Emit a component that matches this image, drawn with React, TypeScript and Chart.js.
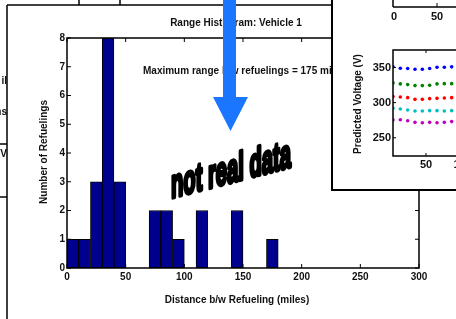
import React, { useEffect, useRef } from "react";
import { Chart, registerables } from "chart.js";

Chart.register(...registerables);

// ---------- Main histogram data ----------
const binCenters = [5, 15, 25, 35, 45, 55, 65, 75, 85, 95, 105, 115, 125, 135, 145, 155, 165, 175, 185, 195, 205, 215, 225, 235, 245, 255, 265, 275, 285, 295];
const refuelCounts = [1, 1, 3, 8, 3, 0, 0, 2, 2, 1, 0, 2, 0, 0, 2, 0, 0, 1, 0, 0, 0, 0, 0, 0, 0, 0, 0, 0, 0, 0];
const xTickValues = [0, 50, 100, 150, 200, 250, 300];
const yTickValues = [0, 1, 2, 3, 4, 5, 6, 7, 8];

const chartTitle = "Range Histogram: Vehicle 1";
const xTitle = "Distance b/w Refueling (miles)";
const yTitle = "Number of Refuelings";
const annotation = "Maximum range b/w refuelings = 175 miles";
const stampText = "not real data";
const sideFragments = ["il", "ns", "V"];

// ---------- Inset scatter data ----------
const cycleX = [5, 15, 25, 35, 45, 55, 65, 75, 85];
const voltBlue = [351, 349, 348.6, 347.6, 347.6, 348.6, 350.4, 350.4, 351];
const voltGreen = [328.1, 326.7, 325.7, 324.3, 324.3, 324.7, 326.7, 327.1, 327.1];
const voltRed = [308.6, 308.1, 307.1, 304.7, 304.7, 305.7, 306.1, 306.7, 307.1];
const voltCyan = [291.9, 291, 289.6, 288.1, 288.1, 288.6, 288.6, 288.1, 288.6];
const voltMagenta = [275.3, 275.7, 274.3, 271.9, 271.4, 271.9, 271.4, 271.9, 273];
const insetYTicks = [250, 300, 350];
const insetXTicks = [50, 100];
const insetTopTicks = ["0", "50"];
const insetYTitle = "Predicted Voltage (V)";

const FONT = "'Liberation Sans', Arial, sans-serif";
const INK = "#111";

function line(ctx: CanvasRenderingContext2D, x1: number, y1: number, x2: number, y2: number) {
  ctx.beginPath();
  ctx.moveTo(x1, y1);
  ctx.lineTo(x2, y2);
  ctx.stroke();
}

const mainDecor = {
  id: "mainDecor",
  beforeDraw(chart: any) {
    const ctx = chart.ctx;
    ctx.save();
    ctx.fillStyle = "#fff";
    ctx.fillRect(0, 0, chart.width, chart.height);
    ctx.restore();
  },
  afterDraw(chart: any) {
    const { ctx, chartArea: a, scales } = chart;
    const xs = scales.x;
    const ys = scales.y;
    ctx.save();
    ctx.fillStyle = INK;
    ctx.strokeStyle = "#000";
    ctx.lineWidth = 1.5;

    // left fragments of windows behind
    ctx.font = `bold 10px ${FONT}`;
    ctx.textAlign = "right";
    ctx.textBaseline = "middle";
    ctx.fillText(sideFragments[0], 7, 81);
    ctx.fillText(sideFragments[1], 7, 112);
    ctx.fillText(sideFragments[2], 7, 154);
    line(ctx, 0, 144, 7, 144);
    line(ctx, 0, 197, 7, 197);
    line(ctx, 79, 0, 79, 5);
    line(ctx, 120, 0, 120, 5);

    // figure frame
    line(ctx, 7, 5, 340, 5);
    line(ctx, 7, 5, 7, 319);

    // plot box
    ctx.strokeRect(a.left, a.top, a.right - a.left, a.bottom - a.top);
    // inward ticks
    ctx.lineWidth = 1;
    xs.ticks.forEach((t: any) => {
      const px = xs.getPixelForValue(t.value);
      line(ctx, px, a.bottom, px, a.bottom - 4);
      line(ctx, px, a.top, px, a.top + 4);
    });
    ys.ticks.forEach((t: any) => {
      const py = ys.getPixelForValue(t.value);
      line(ctx, a.left, py, a.left + 4, py);
      line(ctx, a.right, py, a.right - 4, py);
    });

    // titles
    ctx.font = `bold 10px ${FONT}`;
    ctx.textAlign = "center";
    ctx.textBaseline = "middle";
    ctx.fillText(chartTitle, 236, 23);
    ctx.fillText(xTitle, 237, 300);
    ctx.save();
    ctx.translate(44, 152);
    ctx.rotate(-Math.PI / 2);
    ctx.fillText(yTitle, 0, 0);
    ctx.restore();
    ctx.textAlign = "left";
    ctx.fillText(annotation, 143, 71);

    // "not real data" stamp
    ctx.save();
    ctx.font = `bold 40px ${FONT}`;
    const w = ctx.measureText(stampText).width;
    const sx = 120 / w;
    ctx.translate(171, 198);
    ctx.transform(1, -0.26, 0, 1, 0, 0);
    ctx.scale(sx, 1);
    ctx.textAlign = "left";
    ctx.textBaseline = "alphabetic";
    ctx.fillStyle = "#000";
    ctx.strokeStyle = "#000";
    ctx.lineWidth = 4;
    ctx.lineJoin = "round";
    ctx.strokeText(stampText, 0, 0);
    ctx.fillText(stampText, 0, 0);
    ctx.restore();

    // blue arrow
    ctx.fillStyle = "#1a76ff";
    ctx.beginPath();
    ctx.moveTo(223, 0);
    ctx.lineTo(236, 0);
    ctx.lineTo(236, 97);
    ctx.lineTo(248, 97);
    ctx.lineTo(230.5, 131);
    ctx.lineTo(213, 97);
    ctx.lineTo(223, 97);
    ctx.closePath();
    ctx.fill();

    ctx.restore();
  },
};

const insetDecor = {
  id: "insetDecor",
  beforeDraw(chart: any) {
    const ctx = chart.ctx;
    ctx.save();
    ctx.fillStyle = "#fff";
    ctx.fillRect(0, 0, chart.width, chart.height);
    ctx.restore();
  },
  afterDraw(chart: any) {
    const { ctx, chartArea: a, scales } = chart;
    const xs = scales.x;
    const ys = scales.y;
    ctx.save();
    ctx.strokeStyle = "#000";
    ctx.fillStyle = INK;
    ctx.lineWidth = 1.5;
    ctx.strokeRect(a.left, a.top, a.right - a.left, a.bottom - a.top);
    ctx.lineWidth = 1;
    xs.ticks.forEach((t: any) => {
      const px = xs.getPixelForValue(t.value);
      line(ctx, px, a.bottom, px, a.bottom - 3);
      line(ctx, px, a.top, px, a.top + 3);
    });
    ys.ticks.forEach((t: any) => {
      const py = ys.getPixelForValue(t.value);
      line(ctx, a.left, py, a.left + 3, py);
    });

    // y title
    ctx.font = `bold 10px ${FONT}`;
    ctx.textAlign = "center";
    ctx.textBaseline = "middle";
    ctx.save();
    ctx.translate(25, 104);
    ctx.rotate(-Math.PI / 2);
    ctx.fillText(insetYTitle, 0, 0);
    ctx.restore();

    // fragment of the upper subplot
    ctx.lineWidth = 1.5;
    line(ctx, a.left, 7, chart.width, 7);
    line(ctx, a.left, 0, a.left, 7);
    ctx.lineWidth = 1;
    line(ctx, a.left + 44, 7, a.left + 44, 3);
    ctx.font = `bold 11px ${FONT}`;
    ctx.fillText(insetTopTicks[0], a.left + 1, 17);
    ctx.fillText(insetTopTicks[1], a.left + 44, 17);
    ctx.restore();
  },
};

export default function App() {
  const mainRef = useRef<HTMLCanvasElement>(null);
  const insetRef = useRef<HTMLCanvasElement>(null);

  useEffect(() => {
    Chart.defaults.font.family = FONT;
    const main = new Chart(mainRef.current!, {
      type: "bar",
      data: {
        datasets: [
          {
            data: binCenters.map((c, i) => ({ x: c, y: refuelCounts[i] })),
            backgroundColor: "#00008f",
            borderColor: "#000",
            borderWidth: 1,
            borderSkipped: false,
            barPercentage: 1,
            categoryPercentage: 1,
          },
        ],
      },
      options: {
        animation: false,
        responsive: false,
        devicePixelRatio: 1,
        layout: { padding: { left: 0, right: 37, top: 38, bottom: 0 } },
        plugins: { legend: { display: false }, tooltip: { enabled: false } },
        scales: {
          x: {
            type: "linear",
            min: 0,
            max: 300,
            offset: false,
            grid: { display: false, drawTicks: false },
            border: { display: false },
            afterBuildTicks: (s: any) => {
              s.ticks = xTickValues.map((v) => ({ value: v }));
            },
            afterFit: (s: any) => {
              s.height = 51;
            },
            ticks: { padding: 3, color: INK, font: { size: 10, weight: "bold" }, maxRotation: 0 },
          },
          y: {
            min: 0,
            max: 8,
            grid: { display: false, drawTicks: false },
            border: { display: false },
            afterBuildTicks: (s: any) => {
              s.ticks = yTickValues.map((v) => ({ value: v }));
            },
            afterFit: (s: any) => {
              s.width = 67;
            },
            ticks: { padding: 2, color: INK, font: { size: 10, weight: "bold" } },
          },
        },
      },
      plugins: [mainDecor],
    } as any);

    const mk = (ys: number[], color: string) => ({
      data: cycleX.map((x, i) => ({ x, y: ys[i] })),
      backgroundColor: color,
      borderWidth: 0,
      pointRadius: 1.8,
    });

    const inset = new Chart(insetRef.current!, {
      type: "scatter",
      data: {
        datasets: [
          mk(voltBlue, "#0000ff"),
          mk(voltGreen, "#008000"),
          mk(voltRed, "#ff0000"),
          mk(voltCyan, "#00bfbf"),
          mk(voltMagenta, "#bf00bf"),
        ],
      },
      options: {
        animation: false,
        responsive: false,
        devicePixelRatio: 1,
        layout: { padding: { left: 0, right: 52, top: 50, bottom: 0 } },
        plugins: { legend: { display: false }, tooltip: { enabled: false } },
        scales: {
          x: {
            type: "linear",
            min: 5,
            max: 125,
            grid: { display: false, drawTicks: false },
            border: { display: false },
            afterBuildTicks: (s: any) => {
              s.ticks = insetXTicks.map((v) => ({ value: v }));
            },
            afterFit: (s: any) => {
              s.height = 33;
            },
            ticks: { padding: 2, color: INK, font: { size: 11, weight: "bold" }, maxRotation: 0 },
          },
          y: {
            type: "linear",
            min: 224,
            max: 375,
            grid: { display: false, drawTicks: false },
            border: { display: false },
            afterBuildTicks: (s: any) => {
              s.ticks = insetYTicks.map((v) => ({ value: v }));
            },
            afterFit: (s: any) => {
              s.width = 60;
            },
            ticks: { padding: 2, color: INK, font: { size: 11, weight: "bold" } },
          },
        },
      },
      plugins: [insetDecor],
    } as any);

    return () => {
      main.destroy();
      inset.destroy();
    };
  }, []);

  return (
    <div
      style={{
        position: "fixed",
        left: 0,
        top: 0,
        width: 456,
        height: 319,
        overflow: "hidden",
        background: "#fff",
      }}
    >
      <canvas ref={mainRef} width={456} height={319} style={{ position: "absolute", left: 0, top: 0 }} />
      <div
        style={{
          position: "absolute",
          left: 331,
          top: -10,
          width: 200,
          height: 201,
          border: "2px solid #000",
          boxSizing: "border-box",
          background: "#fff",
        }}
      />
      <canvas ref={insetRef} width={200} height={189} style={{ position: "absolute", left: 333, top: 0 }} />
    </div>
  );
}
